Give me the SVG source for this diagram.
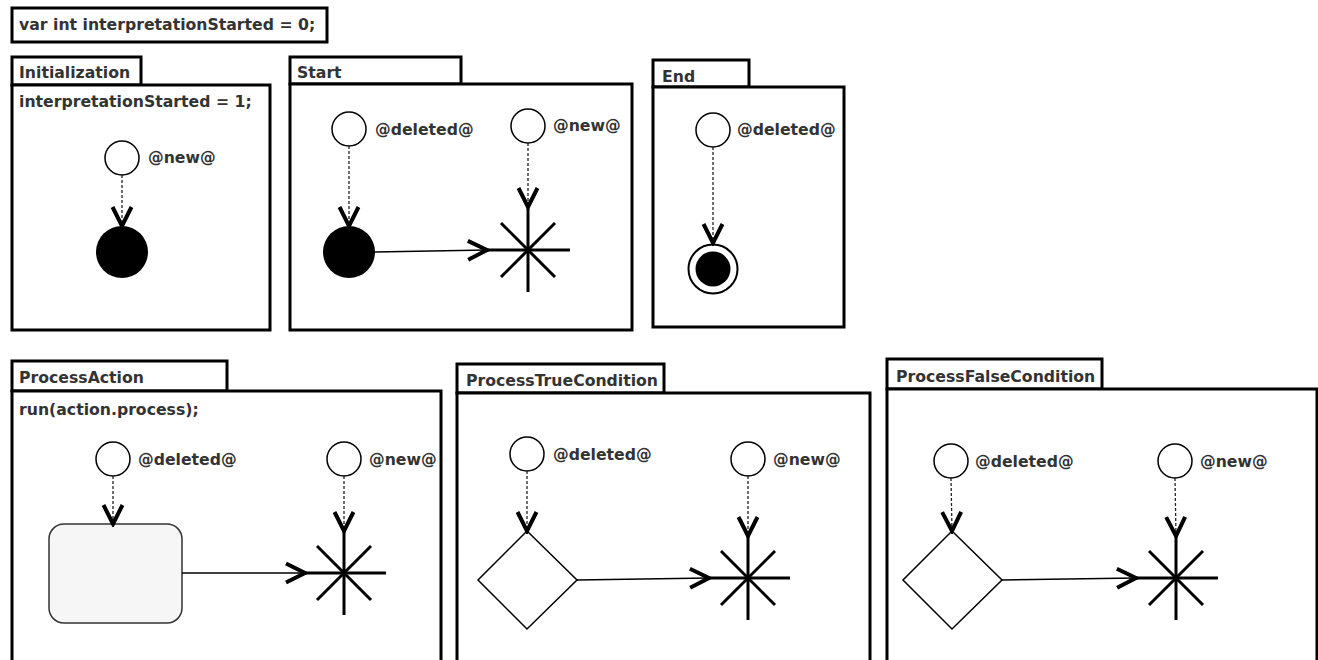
<svg xmlns="http://www.w3.org/2000/svg" width="1318" height="660" viewBox="0 0 1318 660">
  <style>
    .frame { fill: #fff; stroke: #000; stroke-width: 3; }
    .lbl { font-family: "DejaVu Sans", "Liberation Sans", sans-serif; font-weight: bold; font-size: 15.7px; fill: #333; }
    .pin { fill: #fff; stroke: #000; stroke-width: 1.5; }
    .dot { fill: #000; }
    .dash { fill: none; stroke: #222; stroke-width: 1.3; stroke-dasharray: 3 2; }
    .flow { fill: none; stroke: #000; stroke-width: 1.5; }
    .star { stroke: #000; stroke-width: 3; }
    .choice { fill: #fff; stroke: #000; stroke-width: 1.5; }
    .act { fill: #f6f6f6; stroke: #333; stroke-width: 1.5; }
  </style>
  <defs>
    <marker id="open" viewBox="0 0 24 24" refX="21" refY="12" markerWidth="24" markerHeight="24" markerUnits="userSpaceOnUse" orient="auto">
      <path d="M2,2.5 L21,12 L2,21.5" fill="none" stroke="#000" stroke-width="4"/>
    </marker>
    <g id="asterisk">
      <line class="star" x1="0" y1="-42" x2="0" y2="42"/>
      <line class="star" x1="-42" y1="0" x2="42" y2="0"/>
      <line class="star" x1="-27" y1="-27" x2="27" y2="27"/>
      <line class="star" x1="-27" y1="27" x2="27" y2="-27"/>
    </g>
  </defs>
  <rect width="1318" height="660" fill="#fff"/>

  <!-- global declaration -->
  <g id="declaration">
    <rect class="frame" x="12" y="8" width="315" height="34"/>
    <text class="lbl" x="19" y="30">var int interpretationStarted = 0;</text>
  </g>

  <!-- Initialization rule -->
  <g id="initialization">
    <rect class="frame" x="12" y="57" width="129" height="28"/>
    <rect class="frame" x="12" y="85" width="258" height="245"/>
    <text class="lbl" x="19" y="78">Initialization</text>
    <text class="lbl" x="19" y="107">interpretationStarted = 1;</text>
  </g>
  <g id="init-new">
    <circle class="pin" cx="122" cy="158" r="17"/>
    <text class="lbl" x="148" y="163">@new@</text>
  </g>
  <g id="init-start">
    <circle class="dot" cx="122" cy="252" r="26"/>
  </g>

  <!-- Start rule -->
  <g id="start">
    <rect class="frame" x="290" y="57" width="171" height="27"/>
    <rect class="frame" x="290" y="84" width="342" height="246"/>
    <text class="lbl" x="297" y="78">Start</text>
  </g>
  <g id="start-deleted">
    <circle class="pin" cx="349" cy="129" r="17"/>
    <text class="lbl" x="375" y="135">@deleted@</text>
  </g>
  <g id="start-new">
    <circle class="pin" cx="528" cy="126" r="17"/>
    <text class="lbl" x="553" y="131">@new@</text>
  </g>
  <g id="start-initial">
    <circle class="dot" cx="349" cy="252" r="26"/>
  </g>
  <g id="start-any">
    <use href="#asterisk" x="528" y="250"/>
  </g>

  <!-- End rule -->
  <g id="end">
    <rect class="frame" x="653" y="60" width="96" height="27"/>
    <rect class="frame" x="653" y="87" width="191" height="240"/>
    <text class="lbl" x="662" y="82">End</text>
  </g>
  <g id="end-deleted">
    <circle class="pin" cx="713" cy="130" r="17"/>
    <text class="lbl" x="737" y="135">@deleted@</text>
  </g>
  <g id="end-final">
    <circle cx="713" cy="269" r="24.5" fill="#fff" stroke="#000" stroke-width="2"/>
    <circle class="dot" cx="713" cy="269" r="17.5"/>
  </g>

  <!-- ProcessAction rule -->
  <g id="process-action">
    <rect class="frame" x="12" y="361" width="215" height="30"/>
    <rect class="frame" x="12" y="391" width="429" height="280"/>
    <text class="lbl" x="19" y="383">ProcessAction</text>
    <text class="lbl" x="19" y="415">run(action.process);</text>
  </g>
  <g id="pa-deleted">
    <circle class="pin" cx="113" cy="459" r="17"/>
    <text class="lbl" x="138" y="465">@deleted@</text>
  </g>
  <g id="pa-new">
    <circle class="pin" cx="344" cy="459" r="17"/>
    <text class="lbl" x="369" y="465">@new@</text>
  </g>
  <g id="pa-action">
    <rect class="act" x="49" y="524" width="133" height="99" rx="15" ry="15"/>
  </g>
  <g id="pa-any">
    <use href="#asterisk" x="344" y="573"/>
  </g>

  <!-- ProcessTrueCondition rule -->
  <g id="process-true">
    <rect class="frame" x="457" y="364" width="207" height="29"/>
    <rect class="frame" x="457" y="393" width="413" height="280"/>
    <text class="lbl" x="466" y="386">ProcessTrueCondition</text>
  </g>
  <g id="pt-deleted">
    <circle class="pin" cx="527" cy="454" r="17"/>
    <text class="lbl" x="553" y="460">@deleted@</text>
  </g>
  <g id="pt-new">
    <circle class="pin" cx="748" cy="459" r="17"/>
    <text class="lbl" x="773" y="465">@new@</text>
  </g>
  <g id="pt-decision">
    <polygon class="choice" points="527,531 577,580 527,629 478,580"/>
  </g>
  <g id="pt-any">
    <use href="#asterisk" x="748" y="578"/>
  </g>

  <!-- ProcessFalseCondition rule -->
  <g id="process-false">
    <rect class="frame" x="887" y="359" width="215" height="30"/>
    <rect class="frame" x="887" y="389" width="430" height="285"/>
    <text class="lbl" x="896" y="382">ProcessFalseCondition</text>
  </g>
  <g id="pf-deleted">
    <circle class="pin" cx="951" cy="461" r="17"/>
    <text class="lbl" x="975" y="467">@deleted@</text>
  </g>
  <g id="pf-new">
    <circle class="pin" cx="1175" cy="461" r="17"/>
    <text class="lbl" x="1200" y="467">@new@</text>
  </g>
  <g id="pf-decision">
    <polygon class="choice" points="952,531 1002,580 952,629 903,580"/>
  </g>
  <g id="pf-any">
    <use href="#asterisk" x="1176" y="578"/>
  </g>

  <!-- connectors -->
  <g id="connectors">
    <line class="dash" x1="122" y1="175" x2="122" y2="226" marker-end="url(#open)"/>

    <line class="dash" x1="349" y1="146" x2="349" y2="226" marker-end="url(#open)"/>
    <line class="dash" x1="528" y1="143" x2="528" y2="207" marker-end="url(#open)"/>
    <line class="flow" x1="375" y1="252" x2="487" y2="250" marker-end="url(#open)"/>

    <line class="dash" x1="713" y1="147" x2="713" y2="243" marker-end="url(#open)"/>

    <line class="dash" x1="113" y1="476" x2="113" y2="524" marker-end="url(#open)"/>
    <line class="dash" x1="344" y1="476" x2="344" y2="531" marker-end="url(#open)"/>
    <line class="flow" x1="182" y1="573" x2="305" y2="573" marker-end="url(#open)"/>

    <line class="dash" x1="527" y1="471" x2="527" y2="531" marker-end="url(#open)"/>
    <line class="dash" x1="748" y1="476" x2="748" y2="536" marker-end="url(#open)"/>
    <line class="flow" x1="577" y1="580" x2="709" y2="578" marker-end="url(#open)"/>

    <line class="dash" x1="951" y1="478" x2="952" y2="531" marker-end="url(#open)"/>
    <line class="dash" x1="1175" y1="478" x2="1176" y2="536" marker-end="url(#open)"/>
    <line class="flow" x1="1002" y1="580" x2="1136" y2="578" marker-end="url(#open)"/>
  </g>
</svg>
